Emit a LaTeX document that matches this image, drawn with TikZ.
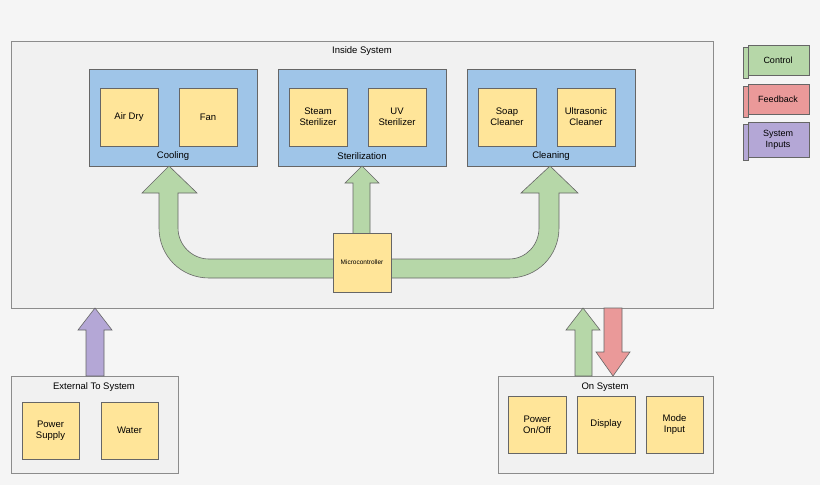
\documentclass[tikz,border=0pt]{standalone}
\usepackage{fontspec}
\setmainfont{Liberation Sans}
\begin{document}
\begin{tikzpicture}[x=1pt,y=-1pt,
  box/.style={draw=black!60,line width=0.6pt,fill=yellow!20!orange!0,fill=ybox,align=center,font=\fontsize{9.5}{11}\selectfont,inner sep=0pt},
  grp/.style={draw=black!60,line width=0.6pt,fill=bgrp},
  sys/.style={draw=black!45,line width=0.6pt,fill=sysbg},
  lbl/.style={font=\fontsize{9.5}{11}\selectfont,inner sep=0pt},
  arr/.style={draw=black!60,line width=0.6pt}]
\definecolor{ybox}{HTML}{FFE599}
\definecolor{bgrp}{HTML}{9FC5E8}
\definecolor{sysbg}{HTML}{F1F1F1}
\definecolor{cgreen}{HTML}{B6D7A8}
\definecolor{cred}{HTML}{EA9999}
\definecolor{cpurp}{HTML}{B4A7D6}
\fill[fill=white!96!black] (0,0) rectangle (820,485);
\useasboundingbox (0,0) rectangle (820,485);
% inside
\draw[sys] (11,41) rectangle (713,308);
\node[lbl] (tin) at (362,51) {Inside System};
\draw[grp] (89,69) rectangle (257,166);
\draw[grp] (278,69) rectangle (446,166);
\draw[grp] (467,69) rectangle (635,166);
\node[lbl] (gc) at (173,156) {Cooling};
\node[lbl] (gs) at (362,156) {Sterilization};
\node[lbl] (gl) at (551,156) {Cleaning};
\newcommand\bx[5]{\node[box,minimum width=#3pt,minimum height=58pt] (#1) at (#2) {#5};}
\node[box,minimum width=58pt,minimum height=58pt] (ad) at (129,117) {Air Dry};
\node[box,minimum width=58pt,minimum height=58pt] (fan) at (208,117) {Fan};
\node[box,minimum width=58pt,minimum height=58pt] (st) at (318,117) {Steam\\Sterilizer};
\node[box,minimum width=58pt,minimum height=58pt] (uv) at (397,117) {UV\\Sterilizer};
\node[box,minimum width=58pt,minimum height=58pt] (so) at (507,117) {Soap\\Cleaner};
\node[box,minimum width=58pt,minimum height=58pt] (ul) at (586,117) {Ultrasonic\\Cleaner};
% U arrow
\filldraw[arr,fill=cgreen] (159,193) -- (142,193) -- (169,166) -- (197,193) -- (178,193) -- (178,228)
  .. controls (178,245) and (192,259) .. (209,259) -- (509,259)
  .. controls (526,259) and (539,245) .. (539,228) -- (539,193) -- (521,193) -- (550,166) -- (578,193) -- (559,193) -- (559,228)
  .. controls (559,256) and (537,278) .. (509,278) -- (209,278)
  .. controls (181,278) and (159,256) .. (159,228) -- cycle;
\filldraw[arr,fill=cgreen] (353,240) -- (353,183) -- (345,183) -- (362,166) -- (379,183) -- (370,183) -- (370,240) -- cycle;
\node[box,minimum width=58pt,minimum height=59pt,font=\fontsize{6.5}{8}\selectfont] (mc) at (362,262.5) {Microcontroller};
% external
\draw[sys] (11,376) rectangle (178,473);
\node[lbl] (te) at (94,387) {External To System};
\node[box,minimum width=57pt,minimum height=57pt] (ps) at (50.5,430.5) {Power\\Supply};
\node[box,minimum width=57pt,minimum height=57pt] (wa) at (129.5,430.5) {Water};
\filldraw[arr,fill=cpurp] (86,376) -- (86,330) -- (78,330) -- (95,308) -- (112,330) -- (104,330) -- (104,376) -- cycle;
% on system
\draw[sys] (498,376) rectangle (713,473);
\node[lbl] (to) at (605,387) {On System};
\node[box,minimum width=58pt,minimum height=57pt] (po) at (537,424.5) {Power\\On/Off};
\node[box,minimum width=58pt,minimum height=57pt] (di) at (606,424.5) {Display};
\node[box,minimum width=57pt,minimum height=57pt] (mi) at (674.5,424.5) {Mode\\Input};
\filldraw[arr,fill=cgreen] (575,376) -- (575,330) -- (566,330) -- (583,308) -- (600,330) -- (592,330) -- (592,376) -- cycle;
\filldraw[arr,fill=cred] (604,308) -- (604,352) -- (596,352) -- (613,376) -- (630,352) -- (622,352) -- (622,308) -- cycle;
% legend
\foreach \n/\c/\ya/\yb/\t in {lc/cgreen/45/75/Control,lf/cred/84/114/Feedback,lp/cpurp/122/157/{System\\Inputs}}{
  \filldraw[arr,fill=\c] (748,\ya) rectangle (809,\yb);
  \filldraw[arr,fill=\c] (743,\ya+2) rectangle (748,\yb+3);
  \node[lbl,align=center,font=\fontsize{9}{11}\selectfont] (\n) at (778,{(\ya+\yb)/2}) {\t};
}
\end{tikzpicture}
\end{document}
